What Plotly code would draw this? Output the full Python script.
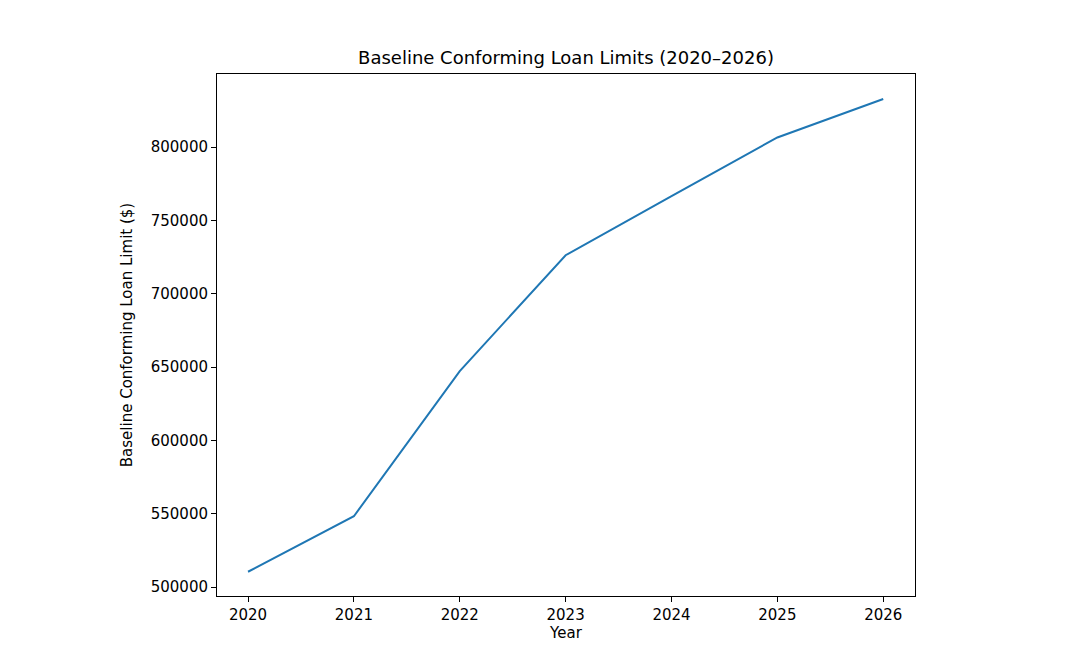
import plotly.graph_objects as go

years = [2020, 2021, 2022, 2023, 2024, 2025, 2026]
limits = [510400, 548250, 647200, 726200, 766550, 806500, 832750]

fig = go.Figure()
fig.add_trace(go.Scatter(x=years, y=limits, mode="lines",
                         line=dict(color="#1f77b4", width=2)))

axis_style = dict(showgrid=False, zeroline=False, showline=True, mirror=True,
                  linecolor="black", linewidth=1, ticks="outside", ticklen=5,
                  tickcolor="black", tickfont=dict(size=15, color="black"))

fig.update_layout(
    width=1084, height=666,
    margin=dict(l=209, r=177, t=66, b=78),
    paper_bgcolor="white", plot_bgcolor="white",
    font=dict(family="DejaVu Sans", color="black"),
    title=dict(text="Baseline Conforming Loan Limits (2020–2026)",
               x=(209 + 907) / 2 / 1084, xanchor="center", y=1 - 50 / 666, yanchor="middle",
               font=dict(size=18)),
    showlegend=False,
)
fig.update_xaxes(title=dict(text="Year", font=dict(size=15), standoff=4),
                 range=[2019.707, 2026.30], tickmode="array", tickvals=years,
                 **axis_style)
fig.update_yaxes(title=dict(text="Baseline Conforming Loan Limit ($)", font=dict(size=15),
                            standoff=14),
                 range=[493864, 849773], tickmode="array",
                 tickvals=[500000, 550000, 600000, 650000, 700000, 750000, 800000],
                 tickformat="d", **axis_style)

fig.write_html("out.html")
